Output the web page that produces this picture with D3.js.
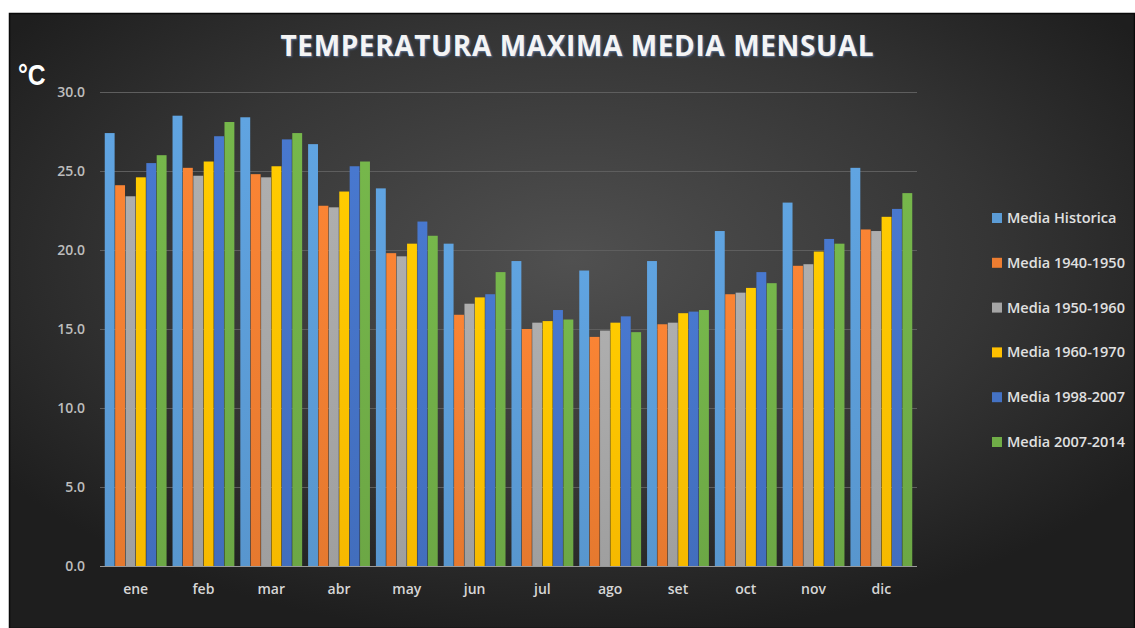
<!DOCTYPE html>
<html>
<head>
<meta charset="utf-8">
<script src="https://cdn.jsdelivr.net/npm/d3@7"></script>
<style>
  html, body { margin: 0; padding: 0; background: #fff; }
  svg { display: block; }
</style>
</head>
<body>
<script>
var months = ["ene", "feb", "mar", "abr", "may", "jun", "jul", "ago", "set", "oct", "nov", "dic"];
var seriesNames = ["Media Historica", "Media 1940-1950", "Media 1950-1960", "Media 1960-1970", "Media 1998-2007", "Media 2007-2014"];
var historica = [27.4, 28.5, 28.4, 26.7, 23.9, 20.4, 19.3, 18.7, 19.3, 21.2, 23.0, 25.2];
var m1940 = [24.1, 25.2, 24.8, 22.8, 19.8, 15.9, 15.0, 14.5, 15.3, 17.2, 19.0, 21.3];
var m1950 = [23.4, 24.7, 24.6, 22.7, 19.6, 16.6, 15.4, 14.9, 15.4, 17.3, 19.1, 21.2];
var m1960 = [24.6, 25.6, 25.3, 23.7, 20.4, 17.0, 15.5, 15.4, 16.0, 17.6, 19.9, 22.1];
var m1998 = [25.5, 27.2, 27.0, 25.3, 21.8, 17.2, 16.2, 15.8, 16.1, 18.6, 20.7, 22.6];
var m2007 = [26.0, 28.1, 27.4, 25.6, 20.9, 18.6, 15.6, 14.8, 16.2, 17.9, 20.4, 23.6];
var yTicks = [0, 5, 10, 15, 20, 25, 30];
var colors = ["#5b9bd5", "#ed7d31", "#a5a5a5", "#ffc000", "#4472c4", "#70ad47"];

var allSeries = [historica, m1940, m1950, m1960, m1998, m2007];
var W = 1135, H = 628;

var svg = d3.select("body").append("svg").attr("width", W).attr("height", H);
var defs = svg.append("defs");

var bg = defs.append("radialGradient").attr("id", "bg")
  .attr("cx", "50%").attr("cy", "40%").attr("r", "62%");
bg.append("stop").attr("offset", "0%").attr("stop-color", "#505050");
bg.append("stop").attr("offset", "60%").attr("stop-color", "#353535");
bg.append("stop").attr("offset", "100%").attr("stop-color", "#1e1e1e");

colors.forEach(function (c, i) {
  var g = defs.append("linearGradient").attr("id", "bar" + i)
    .attr("x1", 0).attr("y1", 0).attr("x2", 0).attr("y2", 1);
  g.append("stop").attr("offset", "0%").attr("stop-color", d3.color(c).brighter(0.15));
  g.append("stop").attr("offset", "100%").attr("stop-color", d3.color(c).darker(0.1));
});

// frame
svg.append("rect").attr("x", 9.5).attr("y", 13.5).attr("width", W - 10).attr("height", H - 13)
  .attr("fill", "url(#bg)").attr("stroke", "#0a0a0a").attr("stroke-width", 1.5);

var plotLeft = 100, plotRight = 917, plotTop = 92, plotBottom = 566;

var y = d3.scaleLinear().domain([0, 30]).range([plotBottom, plotTop]);
var x0 = d3.scaleBand().domain(months).range([plotLeft, plotRight]).paddingInner(0.088).paddingOuter(0.07);
var x1 = d3.scaleBand().domain(d3.range(6)).range([0, x0.bandwidth()]).paddingInner(0.05);

// grid
svg.append("g").selectAll("line").data(yTicks.filter(function (d) { return d > 0; }))
  .enter().append("line")
  .attr("x1", plotLeft).attr("x2", plotRight)
  .attr("y1", function (d) { return y(d) + 0.5; }).attr("y2", function (d) { return y(d) + 0.5; })
  .attr("stroke", "#5e5e5e").attr("stroke-width", 1);

// y axis labels
var yAxis = d3.axisLeft(y).tickValues(yTicks).tickSize(0).tickPadding(15)
  .tickFormat(function (d) { return d3.format(".1f")(d); });
var ya = svg.append("g").attr("transform", "translate(" + plotLeft + ",0)").call(yAxis);
ya.select(".domain").remove();
ya.selectAll("text").attr("fill", "#bdbdbd").style("font-family", "'Open Sans', sans-serif")
  .style("font-size", "14px").style("font-weight", 600);

// bars
var groups = svg.append("g").selectAll("g").data(months).enter().append("g")
  .attr("transform", function (d) { return "translate(" + x0(d) + ",0)"; });
groups.selectAll("rect")
  .data(function (m, mi) { return allSeries.map(function (s, si) { return { s: si, v: s[mi] }; }); })
  .enter().append("rect")
  .attr("x", function (d) { return x1(d.s); })
  .attr("width", x1.bandwidth())
  .attr("y", function (d) { return y(d.v); })
  .attr("height", function (d) { return plotBottom - y(d.v); })
  .attr("fill", function (d) { return "url(#bar" + d.s + ")"; });

// baseline
svg.append("line").attr("x1", plotLeft).attr("x2", plotRight).attr("y1", plotBottom + 0.5).attr("y2", plotBottom + 0.5)
  .attr("stroke", "#9a9a9a").attr("stroke-width", 1.2);

// x axis labels
var xAxis = d3.axisBottom(x0).tickSize(0).tickPadding(18);
var xa = svg.append("g").attr("transform", "translate(0," + plotBottom + ")").call(xAxis);
xa.select(".domain").remove();
xa.selectAll("text").attr("fill", "#d6d6d6").style("font-family", "'Open Sans', sans-serif")
  .style("font-size", "14px").style("font-weight", 600);

// title
svg.append("text").attr("x", 577).attr("y", 56)
  .attr("text-anchor", "middle")
  .attr("textLength", 593).attr("lengthAdjust", "spacing")
  .attr("fill", "#f4f4f4")
  .style("font-family", "'Open Sans', sans-serif").style("font-size", "28px").style("font-weight", 700)
  .style("text-shadow", "1px 1px 2px rgba(120,160,220,0.6)")
  .text("TEMPERATURA MAXIMA MEDIA MENSUAL");

// unit
svg.append("text").attr("x", 18).attr("y", 85)
  .attr("fill", "#ffffff")
  .style("font-family", "'Liberation Sans Narrow', 'Liberation Sans', sans-serif")
  .style("font-size", "29px").style("font-weight", 700)
  .attr("transform", "translate(18,85) scale(0.85,1) translate(-18,-85)")
  .text("°C");

// legend
var leg = svg.append("g").selectAll("g").data(seriesNames).enter().append("g")
  .attr("transform", function (d, i) { return "translate(992," + (218 + i * 44.8) + ")"; });
leg.append("rect").attr("x", 0).attr("y", -5).attr("width", 10).attr("height", 10)
  .attr("fill", function (d, i) { return colors[i]; });
leg.append("text").attr("x", 15).attr("y", 5)
  .attr("fill", "#e0e0e0")
  .style("font-family", "'Open Sans', sans-serif").style("font-size", "14.5px").style("font-weight", 600)
  .text(function (d) { return d; });
</script>
</body>
</html>
